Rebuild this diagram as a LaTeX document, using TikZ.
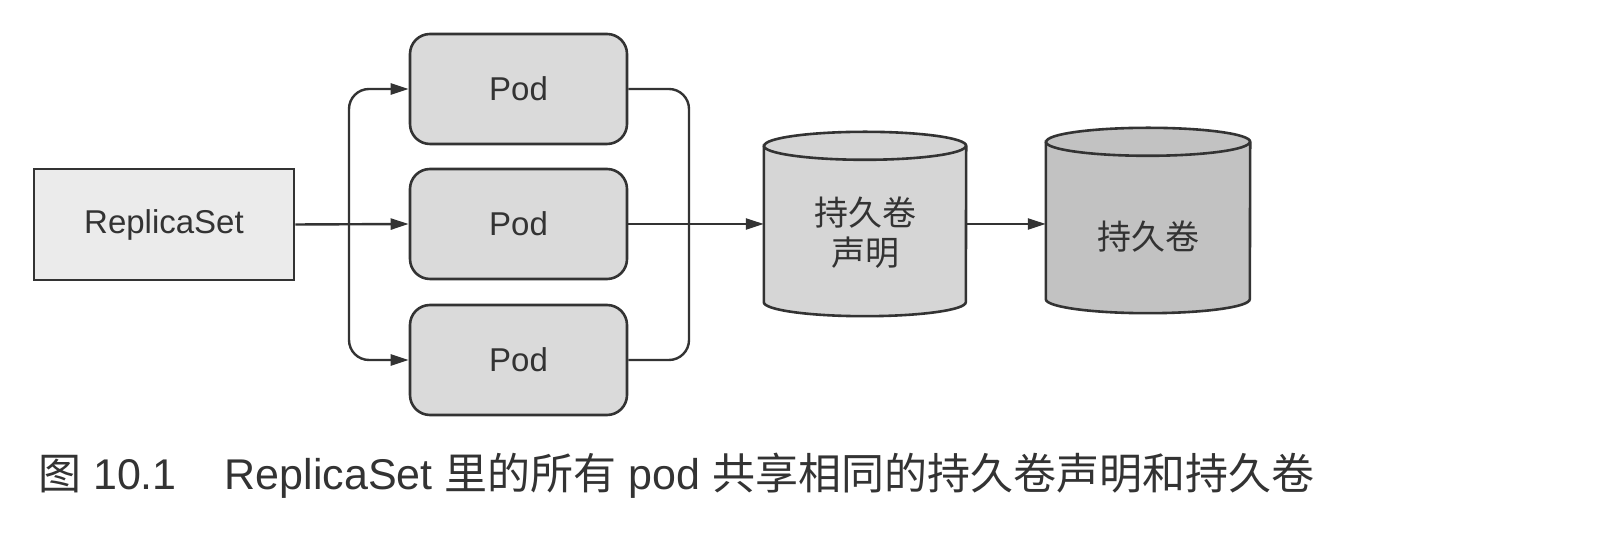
\documentclass[tikz,border=0pt]{standalone}
\usepackage{fontspec}
\setmainfont{Liberation Sans}
\newfontfamily\cjk{Noto Sans CJK SC}
\usetikzlibrary{arrows.meta,calc}
\definecolor{ink}{HTML}{333333}
\definecolor{rsfill}{HTML}{EBEBEB}
\definecolor{podfill}{HTML}{DADADA}
\definecolor{pvcfill}{HTML}{D6D6D6}
\definecolor{pvfill}{HTML}{C2C2C2}
\newcommand\cylshape[3]{%
  \filldraw[fill=#2, draw=ink, line width=2.6pt]
    ($(#1.north west)+(0,-14)$) -- ($(#1.south west)+(0,14)$)
    arc[start angle=180,end angle=360,x radius=#3,y radius=14]
    -- ($(#1.north east)+(0,-14)$)
    arc[start angle=0,end angle=180,x radius=#3,y radius=14] -- cycle;
  \draw[ink, line width=2.6pt] ($(#1.north west)+(0,-14)$)
    arc[start angle=180,end angle=360,x radius=#3,y radius=14];
}
\begin{document}
\begin{tikzpicture}[x=1pt,y=1pt,
  box/.style={draw=ink, line width=2.6pt, minimum width=260pt, minimum height=111pt, fill=rsfill, text=ink, font=\fontsize{33}{40}\selectfont},
  podbox/.style={draw=ink, line width=2.6pt, rounded corners=20pt, minimum width=217pt, minimum height=110pt, fill=podfill, text=ink, font=\fontsize{33}{40}\selectfont},
  cylarea/.style={minimum height=184pt, inner sep=0pt},
  cyltext/.style={font=\fontsize{34}{40}\selectfont\cjk, align=center, text=ink},
  conn/.style={draw=ink, line width=2.4pt, rounded corners=20pt},
  arr/.style={conn, -{Triangle[length=18pt,width=11pt]}},
]
\useasboundingbox (0,0) rectangle (1608,548);

\node[box] (rs) at (164,323.5) {ReplicaSet};
\node[podbox] (pod1) at (518.5,459) {Pod};
\node[podbox] (pod2) at (518.5,324) {Pod};
\node[podbox] (pod3) at (518.5,188) {Pod};

\node[cylarea, minimum width=202pt] (c1) at (865,324) {};
\node[cylarea, minimum width=204pt, minimum height=185pt] (c2) at (1148,327.5) {};
\cylshape{c1}{pvcfill}{101}
\cylshape{c2}{pvfill}{102}
\node[cyltext] (c1t) at (865,315) {持久卷\\声明};
\node[cyltext] (c2t) at (1148,311) {持久卷};

\coordinate (bx) at (349,324);
\coordinate (rx) at (689,324);

\draw[arr] (rs.east) -- (pod2.west);
\draw[arr] (bx) |- (pod1.west);
\draw[arr] (bx) |- (pod3.west);
\draw[conn] (pod1.east) -| (rx) |- (pod3.east);
\draw[arr] (pod2.east) -- (c1.west);
\draw[arr] (c1.east) -- (c1.east -| c2.west);

\node[anchor=base west, text=ink, font=\fontsize{43}{50}\selectfont, inner sep=0pt] (cap) at (38,58)
  {{\cjk 图} 10.1\hspace{48pt}ReplicaSet {\cjk 里的所有} pod {\cjk 共享相同的持久卷声明和持久卷}};
\end{tikzpicture}
\end{document}
